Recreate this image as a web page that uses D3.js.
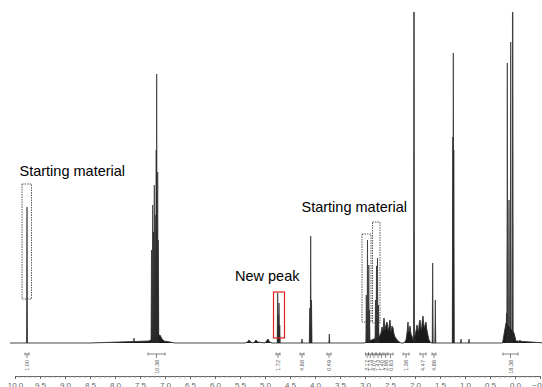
<!DOCTYPE html>
<html>
<head>
<meta charset="utf-8">
<script src="https://cdn.jsdelivr.net/npm/d3@7"></script>
<style>
  html, body { margin: 0; padding: 0; background: #fff; }
  svg { display: block; }
</style>
</head>
<body>
<svg id="chart" width="542" height="387"></svg>
<script>
// ---- Data (chemical shift in ppm, intensity in arbitrary units) ----
// Sharp resonance lines
const peakPpm = [9.76, 7.62,
  7.270, 7.246, 7.230, 7.214, 7.196, 7.176, 7.166, 7.146, 7.134,
  4.746, 4.732, 4.720, 4.705,
  4.26,
  4.104, 4.086, 4.070,
  3.714,
  2.974, 2.950, 2.924, 2.910, 2.790, 2.770, 2.750, 2.730,
  2.020,
  1.646, 1.594,
  1.244, 1.234, 1.224,
  1.08, 0.92,
  0.170, 0.154, 0.120, 0.086, 0.046,
  -0.10];
const peakInt = [136, 5,
  93, 138, 111, 158, 128, 193, 269, 171, 103,
  50, 28, 40, 18,
  4,
  35, 107, 43,
  9,
  48, 103, 78, 33, 43, 77, 85, 38,
  600,
  80, 43,
  206, 290, 193,
  4, 4,
  30, 280, 143, 301, 600,
  3];
// Broad multiplet envelopes / baseline
const basePpm = [10.1, 8.5, 7.32, 7.10, 7.06, 7.02, 6.9, 6.8,
  5.40, 5.35, 5.32, 5.29, 5.24, 5.21, 5.18, 5.15, 5.00, 4.97, 4.94, 4.91, 4.86,
  3.02, 2.72, 2.68, 2.66, 2.64, 2.62, 2.60, 2.58, 2.56, 2.54, 2.53, 2.51, 2.50,
  2.48, 2.46, 2.44, 2.42, 2.40, 2.34, 2.28,
  2.22, 2.18, 2.16, 2.15, 2.14, 2.13, 2.12, 2.10, 2.08, 2.06, 2.04,
  2.00, 1.98, 1.96, 1.945, 1.93, 1.915, 1.90, 1.885, 1.87, 1.855, 1.84, 1.825,
  1.81, 1.795, 1.78, 1.765, 1.75, 1.72, 1.68,
  0.25, 0.18, 0.02, -0.02, -0.6];
const baseInt = [0, 0, 2, 8, 4, 2, 1, 0,
  0, 1, 3, 1, 0, 1, 3, 1, 0, 2, 4, 1, 0,
  0, 6, 10, 16, 12, 25, 13, 18, 21, 14, 12, 20, 23,
  11, 17, 15, 9, 6, 2, 0,
  0, 3, 10, 15, 21, 12, 11, 17, 9, 7, 3,
  8, 12, 18, 14, 11, 20, 23, 16, 13, 22, 27, 18,
  15, 19, 21, 14, 10, 3, 0,
  0, 20, 10, 2, 0];

// Integration regions [from, to] in ppm and their values
const integFrom = [9.80, 7.34, 4.78, 4.30, 3.76,
  2.99, 2.93, 2.85, 2.77, 2.70, 2.62, 2.54,
  2.24, 1.90, 1.66, 0.24];
const integTo = [9.72, 7.00, 4.70, 4.22, 3.68,
  2.93, 2.86, 2.79, 2.71, 2.64, 2.56, 2.44,
  2.12, 1.78, 1.58, -0.06];
const integVal = ["1.00", "10.38", "1.72", "4.68", "0.49",
  "2.17", "1.13", "4.07", "1.43", "1.40", "2.98", "0.63",
  "1.38", "4.47", "4.86", "18.38"];

// Axis tick labels
const majorTicks = [10.0, 9.5, 9.0, 8.5, 8.0, 7.5, 7.0, 6.5, 6.0, 5.5, 5.0,
  4.5, 4.0, 3.5, 3.0, 2.5, 2.0, 1.5, 1.0, 0.5, 0.0, -0.5];

// Annotations
const annText = ["Starting material", "New peak", "Starting material"];
const annPpm = [9.91, 5.60, 4.27];
const annInt = [167, 62, 131];

// dotted / red boxes: [ppm left, ppm right, int low, int high]
const boxPpmL = [9.86, 3.06, 2.85];
const boxPpmR = [9.67, 2.88, 2.70];
const boxIntLo = [44, 21, 20];
const boxIntHi = [159, 109, 121];
const redBox = [4.83, 4.61, 5, 51];

// ---- Drawing ----
const svg = d3.select("#chart");
const x = d3.scaleLinear().domain([10, -0.5]).range([15, 540]);
const y = d3.scaleLinear().domain([0, 331]).range([343, 12]);

svg.append("defs").append("clipPath").attr("id", "clip")
  .append("rect").attr("x", 0).attr("y", 12).attr("width", 542).attr("height", 340);

const g = svg.append("g").attr("clip-path", "url(#clip)");

const line = d3.line().x(d => x(d[0])).y(d => y(d[1]));

// baseline with broad envelopes
const basePts = basePpm.map((p, i) => [p, baseInt[i]]);
g.append("path").attr("d", line(basePts))
  .attr("fill", "#1a1a1a").attr("stroke", "#333").attr("stroke-width", 0.9);

// sharp lines
const hw = 0.01;
peakPpm.forEach((p, i) => {
  const pts = [[p + hw, 0], [p, peakInt[i]], [p - hw, 0]];
  g.append("path").attr("d", line(pts))
    .attr("fill", "#222").attr("stroke", "#2a2a2a").attr("stroke-width", 0.7)
    .attr("stroke-linejoin", "miter");
});

// dotted boxes
boxPpmL.forEach((p, i) => {
  svg.append("rect")
    .attr("x", x(p)).attr("y", y(boxIntHi[i]))
    .attr("width", x(boxPpmR[i]) - x(p))
    .attr("height", y(boxIntLo[i]) - y(boxIntHi[i]))
    .attr("fill", "none").attr("stroke", "#333")
    .attr("stroke-width", 0.8).attr("stroke-dasharray", "1.5,1");
});
svg.append("rect")
  .attr("x", x(redBox[0])).attr("y", y(redBox[3]))
  .attr("width", x(redBox[1]) - x(redBox[0]))
  .attr("height", y(redBox[2]) - y(redBox[3]))
  .attr("fill", "none").attr("stroke", "#e0201c").attr("stroke-width", 1.2);

// annotations
annText.forEach((t, i) => {
  svg.append("text").attr("x", x(annPpm[i])).attr("y", y(annInt[i]))
    .attr("font-family", "Liberation Sans, Arial, sans-serif")
    .attr("font-size", 14.5).attr("fill", "#000").text(t);
});

// integrals
const ig = svg.append("g").attr("stroke", "#555").attr("stroke-width", 0.7);
integFrom.forEach((f, i) => {
  const x0 = x(f), x1 = x(integTo[i]), xc = (x0 + x1) / 2;
  ig.append("line").attr("x1", x0).attr("x2", x1).attr("y1", 354).attr("y2", 354);
  ig.append("line").attr("x1", x0).attr("x2", x0).attr("y1", 352.5).attr("y2", 355.5);
  ig.append("line").attr("x1", x1).attr("x2", x1).attr("y1", 352.5).attr("y2", 355.5);
  ig.append("line").attr("x1", xc).attr("x2", xc).attr("y1", 354).attr("y2", 358);
  svg.append("text")
    .attr("transform", `translate(${xc + 2},${360}) rotate(-90)`)
    .attr("text-anchor", "end")
    .attr("font-family", "Liberation Sans, Arial, sans-serif")
    .attr("font-size", 5.5).attr("fill", "#555").text(integVal[i]);
});

// axis
const axis = d3.axisBottom(x).tickValues(majorTicks).tickSize(3)
  .tickFormat(d3.format(".1f"));
const ag = svg.append("g").attr("transform", "translate(0,376)").call(axis);
ag.select(".domain").attr("stroke", "#666");
ag.selectAll(".tick line").attr("stroke", "#666");
ag.selectAll("text").attr("font-family", "Liberation Sans, Arial, sans-serif")
  .attr("font-size", 8).attr("fill", "#666");
const minor = d3.range(100, -6, -1).map(v => v / 10).filter(v => Math.abs(v * 2 - Math.round(v * 2)) > 1e-6);
const mg = svg.append("g").attr("transform", "translate(0,376)").attr("stroke", "#888");
minor.forEach(v => {
  mg.append("line").attr("x1", x(v)).attr("x2", x(v)).attr("y1", 0).attr("y2", 1.8);
});
</script>
</body>
</html>
